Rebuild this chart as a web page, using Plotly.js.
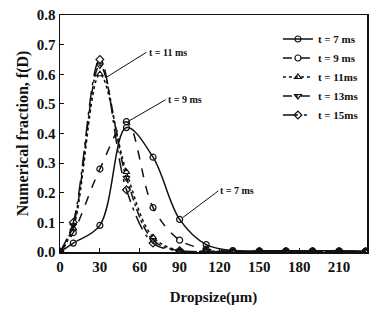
<!DOCTYPE html>
<html><head><meta charset="utf-8">
<script src="https://cdn.plot.ly/plotly-3.0.1.min.js"></script>
<style>html,body{margin:0;padding:0;background:#fff;}#chart{width:371px;height:315px;}</style>
</head><body><div id="chart"></div>
<script>
const dropsize = [0, 10, 30, 50, 70, 90, 110, 130, 150, 170, 190, 210, 230];
const t7  = [0.0, 0.03, 0.09, 0.42, 0.32, 0.11, 0.025, 0.005, 0.004, 0.004, 0.004, 0.004, 0.003];
const t9  = [0.0, 0.065, 0.28, 0.44, 0.15, 0.04, 0.01, 0.003, 0.002, 0.002, 0.002, 0.002, 0.002];
const t11 = [0.0, 0.08, 0.60, 0.27, 0.05, 0.005, 0.002, 0.001, 0.001, 0.001, 0.001, 0.001, 0.001];
const t13 = [0.0, 0.09, 0.63, 0.25, 0.04, 0.004, 0.002, 0.001, 0.001, 0.001, 0.001, 0.001, 0.001];
const t15 = [0.0, 0.10, 0.65, 0.21, 0.03, 0.004, 0.002, 0.001, 0.001, 0.001, 0.001, 0.001, 0.001];
const seriesNames = ['t = 7 ms', 't = 9 ms', 't = 11ms', 't = 13ms', 't = 15ms'];
const xTicks = [0, 30, 60, 90, 120, 150, 180, 210];
const yTicks = [0.0, 0.1, 0.2, 0.3, 0.4, 0.5, 0.6, 0.7, 0.8];

const series = [t7, t9, t11, t13, t15];
const dashes = ['solid', 'dash', 'dot', 'dashdot', 'longdashdot'];
const symbols = ['circle-open', 'circle-open', 'triangle-up-open', 'triangle-down-open', 'diamond-open'];
const serif = 'Liberation Serif, Times New Roman, serif';

const traces = series.map((ys, i) => ({
  x: dropsize, y: ys, name: '<b>' + seriesNames[i] + '</b>',
  type: 'scatter', mode: 'lines+markers',
  line: {color: '#111', width: 1.5, dash: dashes[i], shape: 'spline', smoothing: 1},
  marker: {symbol: symbols[i], size: 6, color: '#111', line: {width: 1.2, color: '#111'}},
  cliponaxis: true
}));

const layout = {
  width: 371, height: 315,
  margin: {l: 60, r: 4, t: 15, b: 63},
  paper_bgcolor: '#fff', plot_bgcolor: '#fff',
  showlegend: true,
  legend: {x: 0.99, y: 0.96, xanchor: 'right', yanchor: 'top', bgcolor: 'rgba(0,0,0,0)',
           font: {family: serif, size: 11, color: '#111'}, tracegroupgap: 0, itemwidth: 30},
  xaxis: {
    range: [0, 231], tickvals: xTicks, ticktext: xTicks.map(v => '<b>' + v + '</b>'),
    ticks: 'inside', ticklen: 4, tickcolor: '#111', showline: true, linecolor: '#111', linewidth: 1.5,
    mirror: true, showgrid: false, zeroline: false,
    tickfont: {family: serif, size: 15, color: '#111'},
    title: {text: '<b>Dropsize(µm)</b>', font: {family: serif, size: 15, color: '#111'}, standoff: 18}
  },
  yaxis: {
    range: [0, 0.8], tickvals: yTicks, ticktext: yTicks.map(v => '<b>' + v.toFixed(1) + '</b>'),
    ticks: 'inside', ticklen: 4, tickcolor: '#111', showline: true, linecolor: '#111', linewidth: 1.5,
    mirror: true, showgrid: false, zeroline: false,
    tickfont: {family: serif, size: 15, color: '#111'},
    title: {text: '<b>Numerical fraction, f(D)</b>', font: {family: serif, size: 16, color: '#111'}, standoff: 4}
  },
  annotations: [
    {x: 35, y: 0.59, ax: 40, ay: -25, text: '<b>t = 11 ms</b>', showarrow: true, arrowhead: 0, arrowwidth: 1,
     arrowcolor: '#111', xanchor: 'left', font: {family: serif, size: 10, color: '#111'}},
    {x: 51, y: 0.44, ax: 38, ay: -22, text: '<b>t = 9 ms</b>', showarrow: true, arrowhead: 0, arrowwidth: 1,
     arrowcolor: '#111', xanchor: 'left', font: {family: serif, size: 10, color: '#111'}},
    {x: 92, y: 0.115, ax: 36, ay: -27, text: '<b>t = 7 ms</b>', showarrow: true, arrowhead: 0, arrowwidth: 1,
     arrowcolor: '#111', xanchor: 'left', font: {family: serif, size: 10, color: '#111'}}
  ]
};

Plotly.newPlot('chart', traces, layout, {staticPlot: true});
</script></body></html>
